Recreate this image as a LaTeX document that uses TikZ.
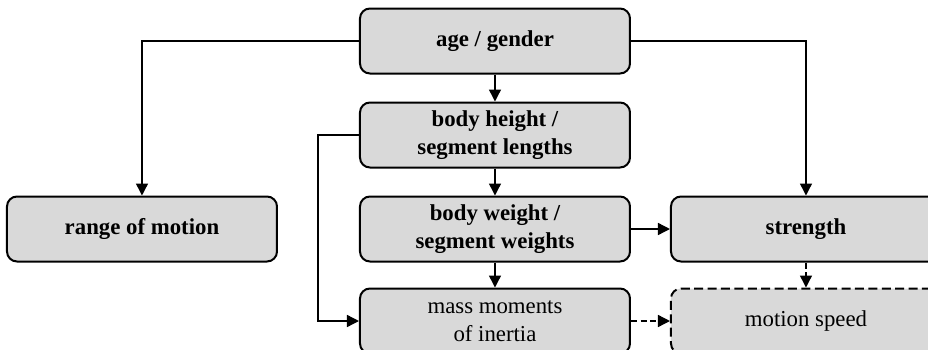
\documentclass[tikz,border=0pt]{standalone}
\usepackage{fontspec}
\setmainfont{Liberation Serif}
\usetikzlibrary{positioning,arrows.meta}

\begin{document}
\begin{tikzpicture}[
		node distance=13.5pt and 19.5pt,
		box/.style={draw, line width=1pt, rounded corners=5pt, fill=gray!30,
			minimum width=135pt, minimum height=32.5pt, align=center,
			font=\fontsize{11.4}{14}\selectfont},
		main/.style={box, font=\fontsize{11.4}{14}\selectfont\bfseries},
		guess/.style={box, dash pattern=on 4.5pt off 2.2pt},
		link/.style={line width=0.7pt, -{Triangle[length=6pt,width=6pt]}},
		maybe/.style={link, dash pattern=on 3pt off 1.8pt}]
	\useasboundingbox (-247.5pt,-154pt) rectangle (216.5pt,20.5pt);

		\node[main]                          (age)      {age / gender};
		\node[main, below=of age]            (height)   {body height /\\segment lengths};
		\node[main, below=of height]         (weight)   {body weight /\\segment weights};
		\node[box, below=12.5pt of weight]   (inertia)  {mass moments\\of inertia};

		\node[main, left=40.5pt of weight]   (range)    {range of motion};
		\node[main, right=of weight]         (strength) {strength};
		\node[guess, right=of inertia]       (speed)    {motion speed};

		\draw[link] (age.west) -| (range.north);
		\draw[link] (age.east) -| (strength.north);
		\draw[link] (age) -- (height);
		\draw[link] (height) -- (weight);
		\draw[link] (weight) -- (inertia);
		\draw[link] (weight) -- (strength);
		\draw[link] (height.west) -- ++(-20.5pt,0) |- (inertia.west);

		\draw[maybe] (strength) -- (speed);
		\draw[maybe] (inertia) -- (speed);
\end{tikzpicture}
\end{document}
